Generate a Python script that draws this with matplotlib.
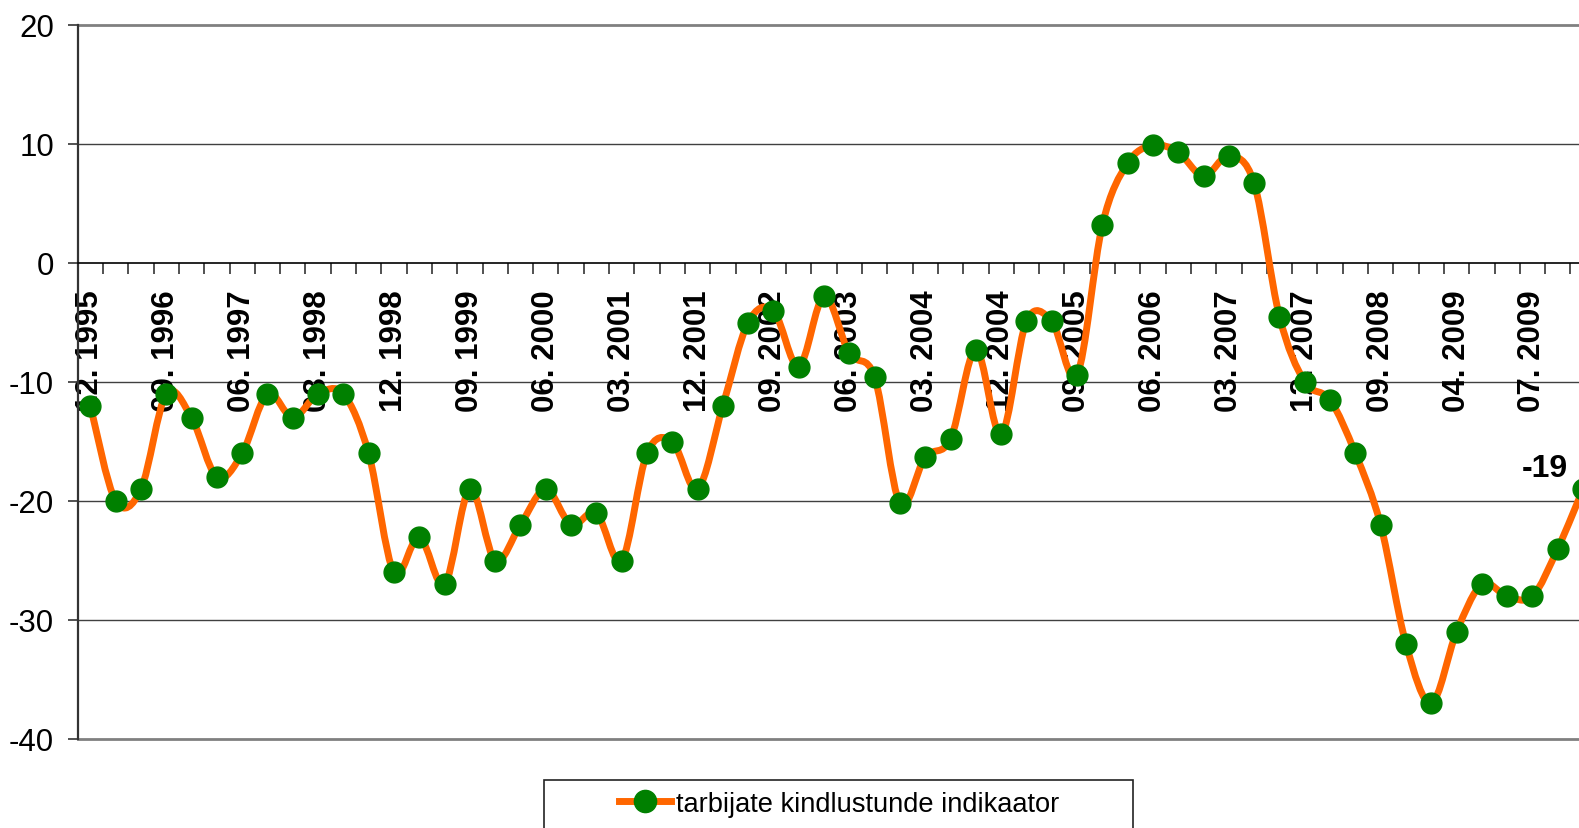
import matplotlib
matplotlib.use("Agg")
import matplotlib.pyplot as plt
from matplotlib.path import Path
from matplotlib.patches import PathPatch, Rectangle
from matplotlib.lines import Line2D

plt.rcParams["font.family"] = ["Liberation Sans", "DejaVu Sans"]
plt.rcParams["axes.unicode_minus"] = False

# kvartalid (2009 kuud)
periods = [
    "12. 1995",
    "03. 1996", "06. 1996", "09. 1996", "12. 1996",
    "03. 1997", "06. 1997", "09. 1997", "12. 1997",
    "03. 1998", "06. 1998", "09. 1998", "12. 1998",
    "03. 1999", "06. 1999", "09. 1999", "12. 1999",
    "03. 2000", "06. 2000", "09. 2000", "12. 2000",
    "03. 2001", "06. 2001", "09. 2001", "12. 2001",
    "03. 2002", "06. 2002", "09. 2002", "12. 2002",
    "03. 2003", "06. 2003", "09. 2003", "12. 2003",
    "03. 2004", "06. 2004", "09. 2004", "12. 2004",
    "03. 2005", "06. 2005", "09. 2005", "12. 2005",
    "03. 2006", "06. 2006", "09. 2006", "12. 2006",
    "03. 2007", "06. 2007", "09. 2007", "12. 2007",
    "03. 2008", "06. 2008", "09. 2008", "12. 2008",
    "03. 2009", "04. 2009", "05. 2009", "06. 2009",
    "07. 2009", "08. 2009", "09. 2009",
]

values = [
    -12, -20, -19, -11, -13, -18, -16, -11, -13, -11, -11, -16, -26,
    -23, -27, -19, -25, -22, -19, -22, -21, -25, -16, -15, -19, -12,
    -5, -4, -8.7, -2.8, -7.6, -9.6, -20.2, -16.3, -14.8, -7.3, -14.4,
    -4.9, -4.9, -9.4,
    3.2, 8.4, 9.9, 9.3, 7.3, 9.0, 6.7, -4.5, -10, -11.5,
    -16, -22, -32, -37, -31, -27, -28, -28, -24, -19,
]

series_name = "tarbijate kindlustunde indikaator"
y_ticks = [-40, -30, -20, -10, 0, 10, 20]

LINE_COLOR = "#FF6600"
MARKER_COLOR = "#008000"


def smooth_path(xs, ys):
    """Exceli-laadne silutud joon (Catmull-Rom -> Bezier)"""
    n = len(xs)
    verts = [(xs[0], ys[0])]
    codes = [Path.MOVETO]
    for i in range(n - 1):
        x0, y0 = (xs[i - 1], ys[i - 1]) if i > 0 else (xs[i], ys[i])
        x3, y3 = (xs[i + 2], ys[i + 2]) if i + 2 < n else (xs[i + 1], ys[i + 1])
        c1 = (xs[i] + (xs[i + 1] - x0) / 6, ys[i] + (ys[i + 1] - y0) / 6)
        c2 = (xs[i + 1] - (x3 - xs[i]) / 6, ys[i + 1] - (y3 - ys[i]) / 6)
        verts += [c1, c2, (xs[i + 1], ys[i + 1])]
        codes += [Path.CURVE4] * 3
    return Path(verts, codes)


W, H = 1579, 829
fig = plt.figure(figsize=(W / 100, H / 100), dpi=100)
# joonise ala ulatub paremalt üle serva (nagu originaalis)
ax = fig.add_axes([77.7 / W, 1 - 740 / H, 1518 / W, 714 / H])

x = list(range(len(values)))
ax.set_xlim(-0.5, len(values) - 0.5)
ax.set_ylim(-40, 20)

# ruudustik
for v in y_ticks[1:-1]:
    if v != 0:
        ax.axhline(v, color="#404040", lw=1.0, zorder=1)
ax.axhline(-40, color="#808080", lw=2.0, zorder=1, clip_on=False)
ax.axhline(20, color="#808080", lw=2.0, zorder=1, clip_on=False)

patch = PathPatch(smooth_path(x, values), facecolor="none", edgecolor=LINE_COLOR,
                  lw=5, capstyle="round", joinstyle="round", zorder=3)
ax.add_patch(patch)
ax.plot(x, values, "o", color=MARKER_COLOR, markersize=15, ls="none", zorder=4)

# viimase punkti silt
ax.annotate(f"{values[-1]:g}", xy=(x[-1], values[-1]), xytext=(-38, 21),
            textcoords="offset pixels", ha="center", va="center",
            fontsize=23, fontweight="bold", zorder=5)

# teljed
for s in ["top", "right"]:
    ax.spines[s].set_visible(False)
ax.spines["bottom"].set_position(("data", 0))
ax.spines["bottom"].set_color("black")
ax.spines["bottom"].set_linewidth(1.2)
ax.spines["left"].set_color("#333333")
ax.spines["left"].set_linewidth(1.6)

ax.set_yticks(y_ticks)
ax.tick_params(axis="y", length=7, width=1.2, color="#333333", pad=10, labelsize=22.5)

ax.set_xticks(x[::3])
ax.set_xticklabels(periods[::3], rotation=90, fontsize=22.5, fontweight="bold")
ax.set_xticks([i - 0.5 for i in x] + [x[-1] + 0.5], minor=True)
ax.tick_params(axis="x", which="major", length=0, pad=19)
ax.tick_params(axis="x", which="minor", length=8, width=1.2, color="#333333")

# legend
fig.add_artist(Rectangle((544 / W, 1 - 860 / H), (1133 - 544) / W, (860 - 781) / H,
                         transform=fig.transFigure, facecolor="white",
                         edgecolor="#222222", lw=1.2))
handle = Line2D([], [], color=LINE_COLOR, lw=5, marker="o", markersize=16,
                markerfacecolor=MARKER_COLOR, markeredgecolor=MARKER_COLOR)
fig.legend([handle], [series_name], loc="center left",
           bbox_to_anchor=(619 / W, 1 - 805 / H), frameon=False, borderpad=0,
           borderaxespad=0, handlelength=1.9, handletextpad=0.2,
           prop={"family": "Liberation Sans", "size": 19.6})

fig.savefig("out.png", dpi=100)
